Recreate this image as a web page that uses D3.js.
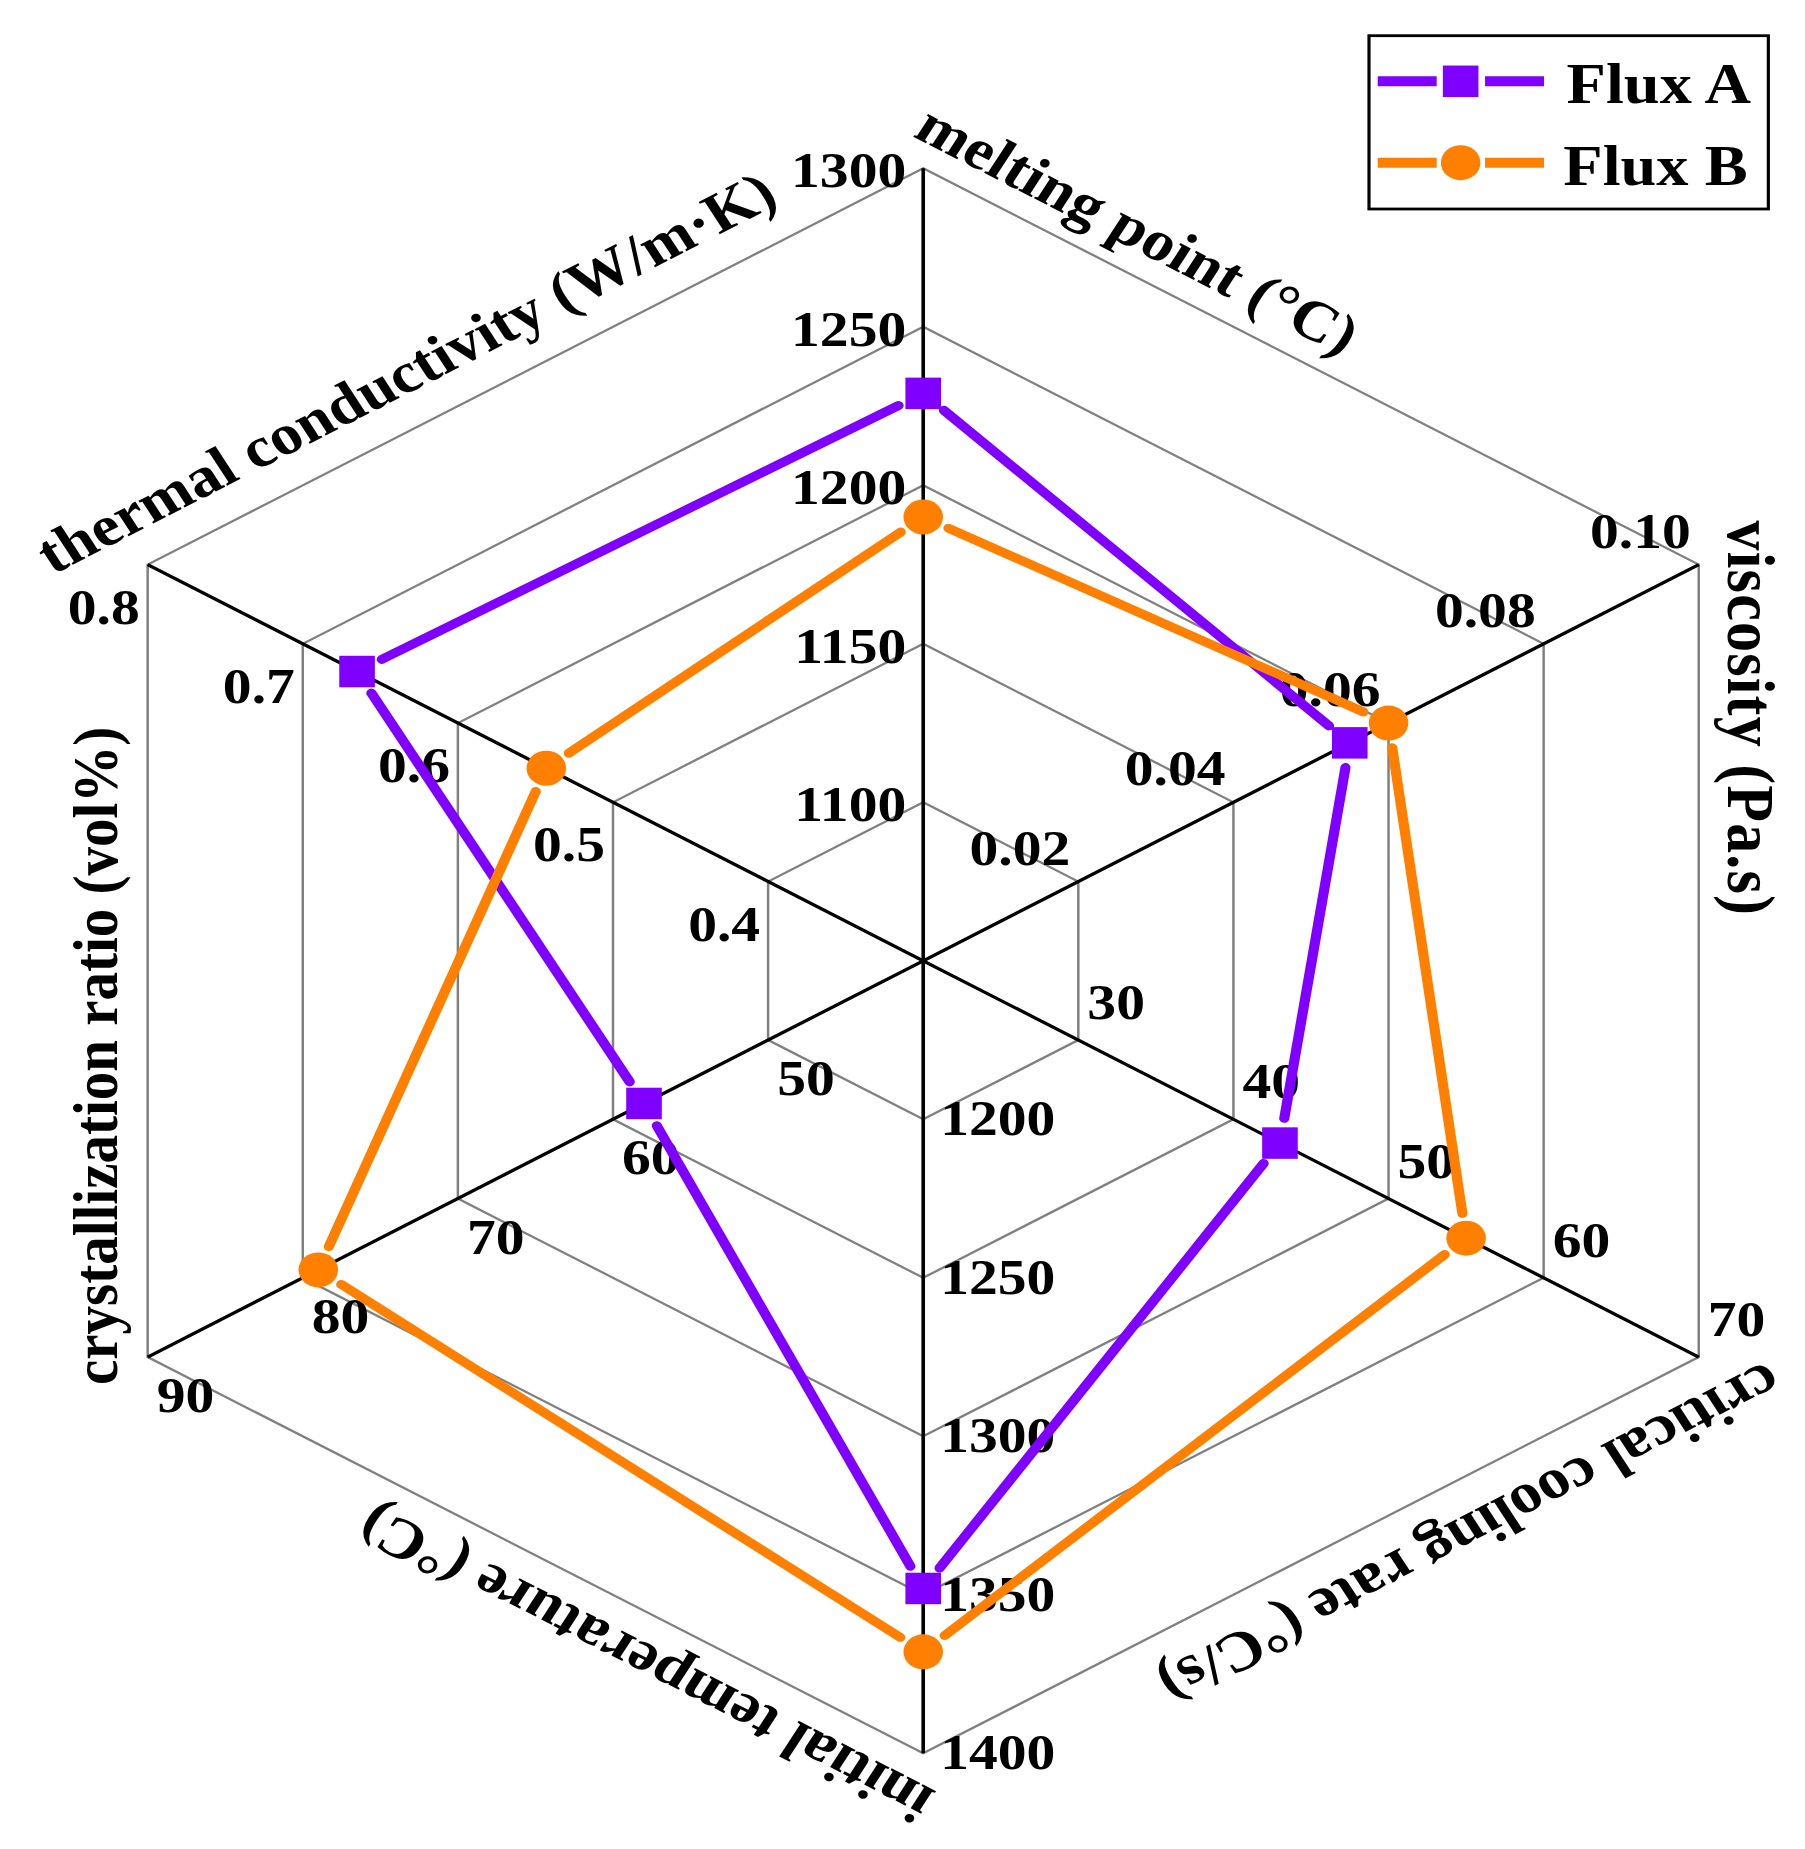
<!DOCTYPE html>
<html><head><meta charset="utf-8">
<script src="https://cdn.jsdelivr.net/npm/d3@7"></script>
<style>html,body{margin:0;padding:0;background:#fff;overflow:hidden;} svg{display:block;} text{font-family:'Liberation Serif','Times New Roman',Times,serif;font-weight:bold;}</style>
</head><body>
<script>
// ---------------- data ----------------
const axisTitles = ["melting point (°C)", "viscosity (Pa.s)", "critical cooling rate (°C/s)",
                    "initial temperature (°C)", "crystallization ratio (vol%)", "thermal conductivity (W/m·K)"];
const axisMin = [1050, 0, 20, 1150, 40, 0.3];
const axisMax = [1300, 0.10, 70, 1400, 90, 0.8];
const tickLabels = [
  ["1100", "1150", "1200", "1250", "1300"],
  ["0.02", "0.04", "0.06", "0.08", "0.10"],
  ["30", "40", "50", "60", "70"],
  ["1200", "1250", "1300", "1350", "1400"],
  ["50", "60", "70", "80", "90"],
  ["0.4", "0.5", "0.6", "0.7", "0.8"]
];
const seriesNames = ["Flux A", "Flux B"];
const fluxA = [1229, 0.055, 43, 1348, 58, 0.665];
const fluxB = [1190, 0.060, 55, 1368, 79, 0.543];

// ---------------- layout ----------------
const W = 1805, H = 1849, SX = 1.13;
const VW = W / SX;
const cx = 817, cy = 960.8, R = 792.5;
const FONT = "'Liberation Serif','Times New Roman',Times,serif";
const colors = ["#7F00FF", "#FF8000"];
const series = [fluxA, fluxB];
const shapes = ["square", "circle"];

const svg = d3.select("body").append("svg")
  .attr("width", W).attr("height", H)
  .attr("viewBox", `0 0 ${VW} ${H}`)
  .attr("preserveAspectRatio", "none");
svg.append("rect").attr("width", VW).attr("height", H).attr("fill", "#fff");

const n = axisTitles.length;
const ang = i => (-90 + 60 * i) * Math.PI / 180;
const rScales = axisMin.map((m, i) => d3.scaleLinear().domain([m, axisMax[i]]).range([0, R]));
const ringScale = d3.scaleLinear().domain([0, 5]).range([0, R]);
const pt = (i, r) => [cx + r * Math.cos(ang(i)), cy + r * Math.sin(ang(i))];

// grid hexagons
const gGrid = svg.append("g");
d3.range(1, 6).forEach(k => {
  const r = ringScale(k);
  const pts = d3.range(n).map(i => pt(i, r));
  gGrid.append("path")
    .attr("d", d3.line()(pts) + "Z")
    .attr("fill", "none").attr("stroke", "#808080").attr("stroke-width", 2.2);
});

// axes
const gAxes = svg.append("g");
d3.range(n).forEach(i => {
  const [x2, y2] = pt(i, R);
  gAxes.append("line").attr("x1", cx).attr("y1", cy).attr("x2", x2).attr("y2", y2)
    .attr("stroke", "#000").attr("stroke-width", 3.2);
});

// tick labels
const tickPlace = [
  {anchor: "end",   dx: -15, dy: 19},
  {anchor: "end",   dx: -7,  dy: -17},
  {anchor: "start", dx: 8,   dy: -21},
  {anchor: "start", dx: 15,  dy: 16},
  {anchor: "start", dx: 8,   dy: 55},
  {anchor: "end",   dx: -7,  dy: 59}
];
const gTicks = svg.append("g").style("font-family", FONT).style("font-weight", "bold")
  .style("font-size", "51px").attr("fill", "#000");
tickLabels.forEach((labels, i) => {
  labels.forEach(lab => {
    const [x, y] = pt(i, rScales[i](+lab));
    gTicks.append("text").attr("x", x + tickPlace[i].dx).attr("y", y + tickPlace[i].dy)
      .attr("text-anchor", tickPlace[i].anchor).text(lab);
  });
});

// axis titles
const titlePlace = [[-25, 23], [-44, 26], [-50, 33], [-30, 27], [-28, 27], [-78, 33]];
const titleSize = [57, 60, 57, 57, 57, 57];
const titleSpacing = [0, 1.2, 0, 0, 0, 0];
const gTitles = svg.append("g").style("font-family", FONT).style("font-weight", "bold")
  .attr("fill", "#000");
axisTitles.forEach((t, i) => {
  const [vx, vy] = pt(i, R);
  const dir = (30 + 60 * i) * Math.PI / 180;
  const nor = (-60 + 60 * i) * Math.PI / 180;
  const [a, b] = titlePlace[i];
  const x = vx + a * Math.cos(dir) + b * Math.cos(nor);
  const y = vy + a * Math.sin(dir) + b * Math.sin(nor);
  gTitles.append("text")
    .attr("transform", `translate(${x},${y}) rotate(${30 + 60 * i})`)
    .style("font-size", titleSize[i] + "px")
    .style("letter-spacing", titleSpacing[i] + "px")
    .attr("text-anchor", "start").text(t);
});

// series lines (trimmed near markers)
const TRIM = 25;
const gSeries = svg.append("g");
series.forEach((vals, s) => {
  const pts = vals.map((v, i) => pt(i, rScales[i](v)));
  pts.forEach((p, i) => {
    const q = pts[(i + 1) % n];
    const dx = q[0] - p[0], dy = q[1] - p[1];
    const L = Math.hypot(dx, dy);
    const ux = dx / L, uy = dy / L;
    gSeries.append("line")
      .attr("x1", p[0] + ux * TRIM).attr("y1", p[1] + uy * TRIM)
      .attr("x2", q[0] - ux * TRIM).attr("y2", q[1] - uy * TRIM)
      .attr("stroke", colors[s]).attr("stroke-width", 9).attr("stroke-linecap", "round");
  });
});
// markers
const gMarkers = svg.append("g");
function marker(g, shape, x, y, color) {
  if (shape === "square") {
    const a = 31.5;
    g.append("rect").attr("x", x - a / 2).attr("y", y - a / 2).attr("width", a).attr("height", a).attr("fill", color);
  } else {
    g.append("circle").attr("cx", x).attr("cy", y).attr("r", 17.5).attr("fill", color);
  }
}
series.forEach((vals, s) => {
  vals.forEach((v, i) => {
    const [x, y] = pt(i, rScales[i](v));
    marker(gMarkers, shapes[s], x, y, colors[s]);
  });
});

// legend
const gLeg = svg.append("g");
gLeg.append("rect").attr("x", 1211.5).attr("y", 35.7).attr("width", 353.4).attr("height", 173.3)
  .attr("fill", "#fff").attr("stroke", "#000").attr("stroke-width", 2.8);
const legY = [81.3, 162.7];
const legTextX = [1386.4, 1383.5];
const legBase = [103.3, 185];
seriesNames.forEach((name, s) => {
  const y = legY[s];
  gLeg.append("line").attr("x1", 1219.2).attr("x2", 1271.4).attr("y1", y).attr("y2", y)
    .attr("stroke", colors[s]).attr("stroke-width", 10);
  gLeg.append("line").attr("x1", 1314.2).attr("x2", 1366.4).attr("y1", y).attr("y2", y)
    .attr("stroke", colors[s]).attr("stroke-width", 10);
  marker(gLeg, shapes[s], 1292.6, y, colors[s]);
  gLeg.append("text").attr("x", legTextX[s]).attr("y", legBase[s])
    .style("font-family", FONT).style("font-weight", "bold").style("font-size", "57px")
    .attr("fill", "#000").text(name);
});
</script>
</body></html>
